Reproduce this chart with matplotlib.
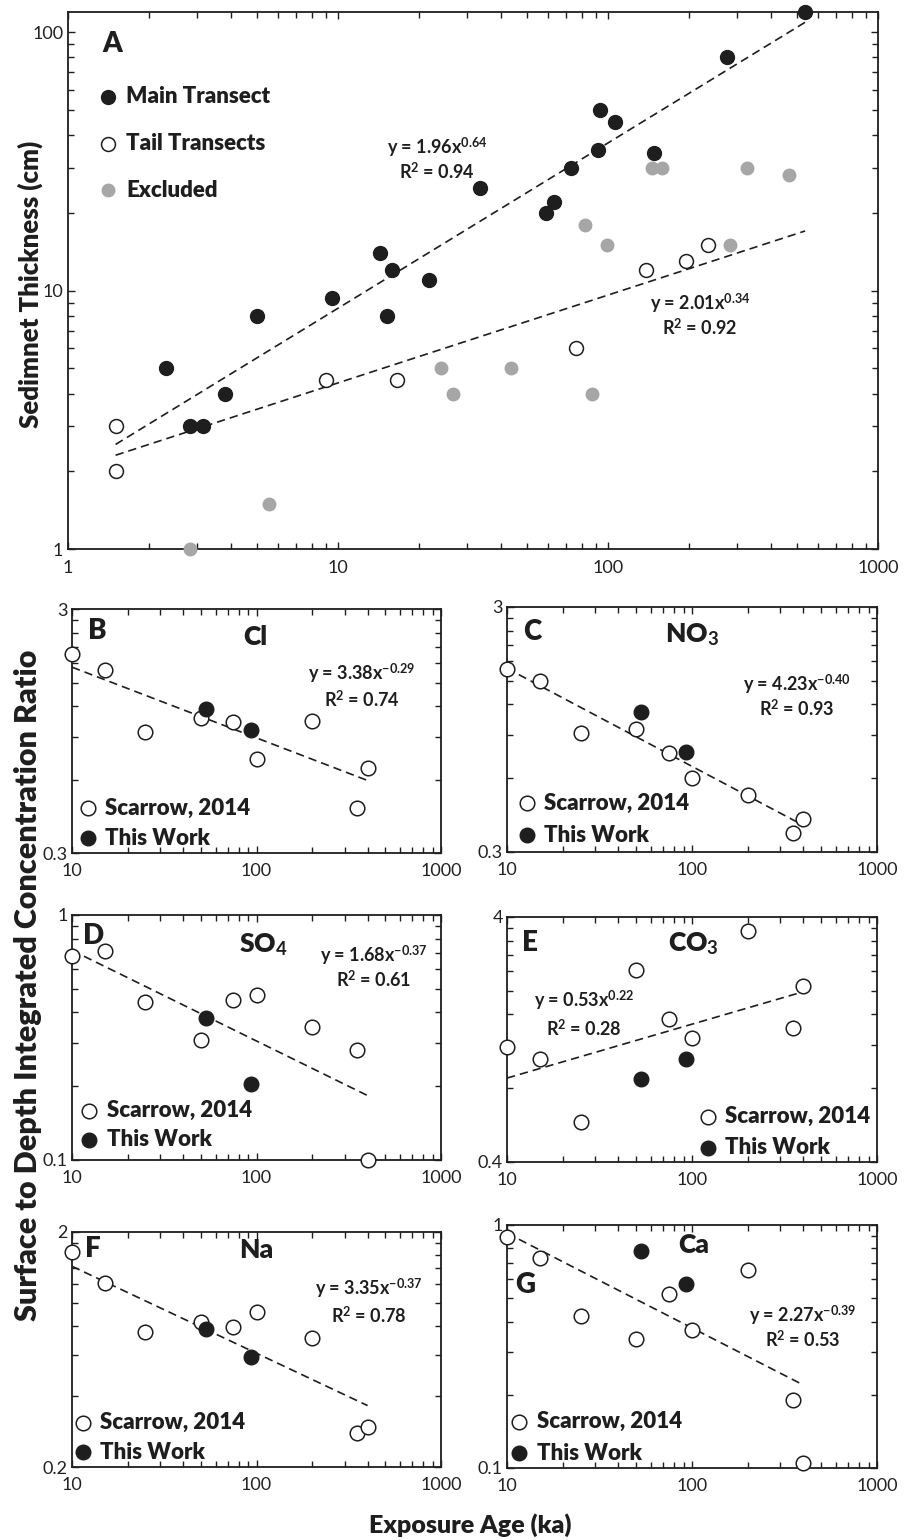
import numpy as np
import matplotlib
matplotlib.use("Agg")
import matplotlib.pyplot as plt
from matplotlib.ticker import FixedLocator, FixedFormatter, NullFormatter, LogLocator

plt.rcParams["font.family"] = ["Lato", "DejaVu Sans"]
plt.rcParams["mathtext.fontset"] = "custom"
plt.rcParams["mathtext.rm"] = "Lato"
plt.rcParams["mathtext.bf"] = "Lato:bold"
plt.rcParams["mathtext.it"] = "Lato:italic"

BLACK = "#1e1e1e"
GREY = "#a6a6a6"

# ---- panel A: sediment thickness vs exposure age ----
main_age = [2.3, 2.84, 3.17, 3.8, 5.0, 9.5, 14.3, 15.2, 15.9, 21.7, 33.6,
            59, 63, 73, 92, 93, 106, 148, 276, 537]
main_thk = [5, 3, 3, 4, 8, 9.4, 14, 8, 12, 11, 25,
            20, 22, 30, 35, 50, 45, 34, 80, 120]
tail_age = [1.5, 1.5, 9.0, 16.5, 76, 138, 194, 235]
tail_thk = [3, 2, 4.5, 4.5, 6, 12, 13, 15]
excl_age = [2.83, 5.55, 24, 26.7, 43.6, 82, 87.6, 99, 145, 159, 283, 326, 468]
excl_thk = [1, 1.5, 5, 4, 5, 18, 4, 15, 30, 30, 15, 30, 28]
main_fit = (1.96, 0.64, 0.94)
tail_fit = (2.01, 0.34, 0.92)
fit_range_a = (1.5, 537)

# ---- panels B-G: surface / depth integrated concentration ratio ----
scarrow_age = [10, 15, 25, 50, 75, 100, 200, 350, 400]
thiswork_age = [53, 93]
ions = ["Cl", "NO3", "SO4", "CO3", "Na", "Ca"]
ion_labels = ["Cl", r"NO$_\mathbf{3}$", r"SO$_\mathbf{4}$", r"CO$_\mathbf{3}$", "Na", "Ca"]
panel_letters = ["B", "C", "D", "E", "F", "G"]
scarrow_ratio = {
    "Cl":  [1.96, 1.69, 0.94, 1.07, 1.03, 0.73, 1.04, 0.46, 0.67],
    "NO3": [1.68, 1.50, 0.915, 0.95, 0.76, 0.60, 0.51, 0.36, 0.41],
    "SO4": [0.68, 0.71, 0.44, 0.31, 0.45, 0.47, 0.35, 0.28, 0.10],
    "CO3": [1.18, 1.05, 0.58, 2.42, 1.53, 1.28, 3.5, 1.41, 2.08],
    "Na":  [1.65, 1.21, 0.75, 0.83, 0.79, 0.91, 0.71, 0.28, 0.295],
    "Ca":  [0.89, 0.73, 0.42, 0.34, 0.52, 0.37, 0.65, 0.19, 0.105],
}
thiswork_ratio = {
    "Cl":  [1.17, 0.96],
    "NO3": [1.12, 0.77],
    "SO4": [0.38, 0.205],
    "CO3": [0.87, 1.05],
    "Na":  [0.77, 0.59],
    "Ca":  [0.78, 0.57],
}
fit_coef = [3.38, 4.23, 1.68, 0.53, 3.35, 2.27]
fit_exp = [-0.29, -0.40, -0.37, 0.22, -0.37, -0.39]
fit_r2 = [0.74, 0.93, 0.61, 0.28, 0.78, 0.53]
fit_end = [400, 400, 400, 400, 400, 380]
y_limits = [(0.3, 3), (0.3, 3), (0.1, 1), (0.4, 4), (0.2, 2), (0.1, 1)]


def style_axis(ax):
    for sp in ax.spines.values():
        sp.set_linewidth(1.3)
        sp.set_color(BLACK)
    ax.tick_params(which="both", direction="in", top=True, right=True,
                   width=1.0, color=BLACK, labelsize=13, labelcolor="#222222")
    ax.tick_params(which="major", length=5)
    ax.tick_params(which="minor", length=4.5)


def eq_text(a, b):
    return "y = %.2fx$^{\\mathbf{%.2f}}$" % (a, b)


fig = plt.figure(figsize=(9.06, 15.4), dpi=100)

# ---------------- panel A ----------------
axA = fig.add_axes([0.0751, 0.6435, 0.894, 0.3487])
axA.set_xscale("log")
axA.set_yscale("log")
axA.set_xlim(1, 1000)
axA.set_ylim(1, 120)
xf = np.logspace(np.log10(fit_range_a[0]), np.log10(fit_range_a[1]), 50)
for a, b, r2 in (main_fit, tail_fit):
    axA.plot(xf, a * xf ** b, ls=(0, (5, 3)), color=BLACK, lw=1.2)
axA.plot(excl_age, excl_thk, "o", ms=9, color=GREY, mec=GREY, clip_on=False, zorder=3)
axA.plot(tail_age, tail_thk, "o", ms=10, mfc="white", mec=BLACK, mew=1.1, clip_on=False, zorder=4)
axA.plot(main_age, main_thk, "o", ms=10, color=BLACK, clip_on=False, zorder=5)
axA.xaxis.set_major_locator(FixedLocator([1, 10, 100, 1000]))
axA.xaxis.set_major_formatter(FixedFormatter(["1", "10", "100", "1000"]))
axA.xaxis.set_minor_locator(LogLocator(base=10, subs=np.arange(2, 10)))
axA.xaxis.set_minor_formatter(NullFormatter())
axA.yaxis.set_major_locator(FixedLocator([1, 10, 100]))
axA.yaxis.set_major_formatter(FixedFormatter(["1", "10", "100"]))
axA.yaxis.set_minor_locator(LogLocator(base=10, subs=np.arange(2, 10)))
axA.yaxis.set_minor_formatter(NullFormatter())
style_axis(axA)
axA.tick_params(axis="x", pad=8)

axA.text(0.042, 0.965, "A", transform=axA.transAxes, fontsize=20,
         fontweight="heavy", ha="left", va="top", color=BLACK)
leg_rows = [("Main Transect", dict(color=BLACK)),
            ("Tail Transects", dict(mfc="white", mec=BLACK, mew=1.1)),
            ("Excluded", dict(color=GREY))]
for i, (lab, kw) in enumerate(leg_rows):
    yy = 0.842 - i * 0.087
    axA.plot([0.049], [yy], "o", ms=10 if i < 2 else 9, transform=axA.transAxes,
             clip_on=False, **kw)
    axA.text(0.0716, yy, lab, transform=axA.transAxes, fontsize=16,
             fontweight="heavy", ha="left", va="center", color=BLACK)
axA.text(0.456, 0.749, eq_text(main_fit[0], main_fit[1]), transform=axA.transAxes,
         fontsize=13, fontweight="bold", ha="center", va="center", color=BLACK)
axA.text(0.456, 0.703, "R$^{\\mathbf{2}}$ = %.2f" % main_fit[2], transform=axA.transAxes,
         fontsize=13, fontweight="bold", ha="center", va="center", color=BLACK)
axA.text(0.780, 0.4575, eq_text(tail_fit[0], tail_fit[1]), transform=axA.transAxes,
         fontsize=13, fontweight="bold", ha="center", va="center", color=BLACK)
axA.text(0.780, 0.413, "R$^{\\mathbf{2}}$ = %.2f" % tail_fit[2], transform=axA.transAxes,
         fontsize=13, fontweight="bold", ha="center", va="center", color=BLACK)

# ---------------- panels B-G ----------------
rects = [[0.0795, 0.4461, 0.4073, 0.1584],
         [0.5596, 0.4468, 0.4084, 0.1591],
         [0.0795, 0.2468, 0.4073, 0.1591],
         [0.5596, 0.2455, 0.4084, 0.1591],
         [0.0795, 0.0474, 0.4073, 0.1526],
         [0.5596, 0.0468, 0.4084, 0.1578]]
# letter (x, ytop), ion title (x, y), equation (x, y, y_r2), legend (x_marker, y1, y2)
layout = [
    ((0.043, 0.965), (0.496, 0.885), (0.785, 0.736, 0.631), (0.042, 0.183, 0.060)),
    ((0.043, 0.950), (0.499, 0.886), (0.783, 0.684, 0.586), (0.053, 0.198, 0.069)),
    ((0.031, 0.965), (0.518, 0.878), (0.817, 0.837, 0.735), (0.047, 0.201, 0.082)),
    ((0.040, 0.945), (0.504, 0.891), (0.208, 0.660, 0.544), (0.542, 0.184, 0.057)),
    ((0.035, 0.985), (0.500, 0.924), (0.803, 0.761, 0.644), (0.029, 0.189, 0.062)),
    ((0.022, 0.805), (0.504, 0.918), (0.800, 0.627, 0.530), (0.033, 0.190, 0.060)),
]

for k, ion in enumerate(ions):
    ax = fig.add_axes(rects[k])
    ax.set_xscale("log")
    ax.set_yscale("log")
    ax.set_xlim(10, 1000)
    y0, y1 = y_limits[k]
    ax.set_ylim(y0, y1)
    xf = np.logspace(1, np.log10(fit_end[k]), 50)
    ax.plot(xf, fit_coef[k] * xf ** fit_exp[k], ls=(0, (5, 3)), color=BLACK, lw=1.2)
    ax.plot(scarrow_age, scarrow_ratio[ion], "o", ms=10.5, mfc="white", mec=BLACK,
            mew=1.1, clip_on=False, zorder=4)
    ax.plot(thiswork_age, thiswork_ratio[ion], "o", ms=10.5, color=BLACK,
            clip_on=False, zorder=5)
    ax.xaxis.set_major_locator(FixedLocator([10, 100, 1000]))
    ax.xaxis.set_major_formatter(FixedFormatter(["10", "100", "1000"]))
    ax.xaxis.set_minor_locator(LogLocator(base=10, subs=np.arange(2, 10)))
    ax.xaxis.set_minor_formatter(NullFormatter())
    ax.yaxis.set_major_locator(FixedLocator([y0, y1]))
    ax.yaxis.set_major_formatter(FixedFormatter(["%g" % y0, "%g" % y1]))
    ax.yaxis.set_minor_locator(FixedLocator([y0 * m for m in range(2, 10)]))
    ax.yaxis.set_minor_formatter(NullFormatter())
    style_axis(ax)
    ax.tick_params(axis="x", pad=7)
    ax.tick_params(axis="y", pad=3)

    (lx, ly), (tx, ty), (ex, ey, ry), (mx, my1, my2) = layout[k]
    ax.text(lx, ly, panel_letters[k], transform=ax.transAxes, fontsize=20,
            fontweight="heavy", ha="left", va="top", color=BLACK)
    ax.text(tx, ty, ion_labels[k], transform=ax.transAxes, fontsize=19,
            fontweight="heavy", ha="center", va="center", color=BLACK)
    ax.text(ex, ey, eq_text(fit_coef[k], fit_exp[k]), transform=ax.transAxes,
            fontsize=13, fontweight="bold", ha="center", va="center", color=BLACK)
    ax.text(ex, ry, "R$^{\\mathbf{2}}$ = %.2f" % fit_r2[k], transform=ax.transAxes,
            fontsize=13, fontweight="bold", ha="center", va="center", color=BLACK)
    ax.plot([mx], [my1], "o", ms=10.5, mfc="white", mec=BLACK, mew=1.1,
            transform=ax.transAxes, clip_on=False)
    ax.plot([mx], [my2], "o", ms=10.5, color=BLACK, transform=ax.transAxes, clip_on=False)
    ax.text(mx + 0.048, my1, "Scarrow, 2014", transform=ax.transAxes, fontsize=16,
            fontweight="heavy", ha="left", va="center", color=BLACK)
    ax.text(mx + 0.048, my2, "This Work", transform=ax.transAxes, fontsize=16,
            fontweight="heavy", ha="left", va="center", color=BLACK)

fig.text(30 / 906, 1 - 284 / 1540, "Sedimnet Thickness (cm)", rotation=90,
         fontsize=18.5, fontweight="heavy", ha="center", va="center", color=BLACK)
fig.text(28 / 906, 1 - 985 / 1540, "Surface to Depth Integrated Concentration Ratio",
         rotation=90, fontsize=22, fontweight="heavy", ha="center", va="center", color=BLACK)
fig.text(470 / 906, 1 - 1525 / 1540, "Exposure Age (ka)", fontsize=18,
         fontweight="heavy", ha="center", va="center", color=BLACK)

fig.savefig("out.png", dpi=100)
